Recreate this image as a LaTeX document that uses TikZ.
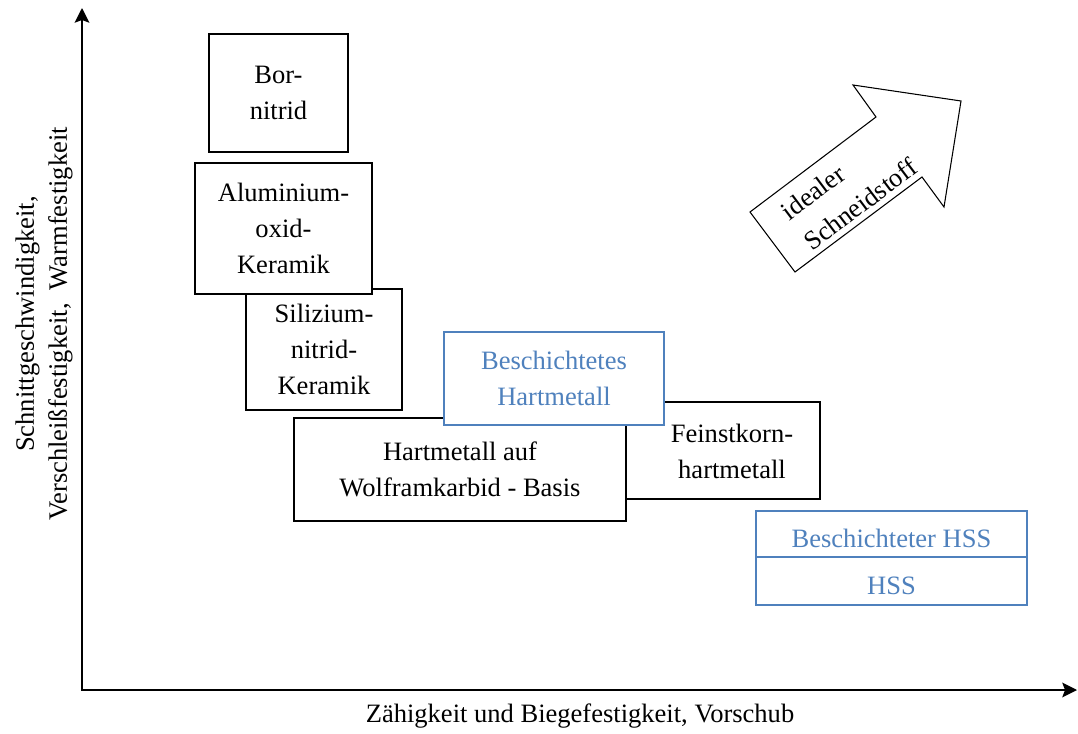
\documentclass[tikz,border=0pt]{standalone}
\usepackage{fontspec}
\setmainfont{Liberation Serif}
\usetikzlibrary{arrows.meta}
\definecolor{coatblue}{RGB}{79,129,189}
\begin{document}
\begin{tikzpicture}[x=0.75pt,y=-0.75pt,
  font=\fontsize{19.9pt}{27pt}\selectfont,
  box/.style={draw=black, line width=1.5pt, fill=white, align=center, inner sep=2pt},
  coated/.style={box, draw=coatblue, text=coatblue, line width=1.3pt},
  oneline/.style={text height=20pt, text depth=0pt},
  axisline/.style={line width=1.5pt,
    {Stealth[length=11pt,width=11pt,inset=2pt]}-{Stealth[length=11pt,width=11pt,inset=2pt]}},
  label/.style={inner sep=0pt},
]
\useasboundingbox (0,0) rectangle (1078,734);

% axes
\coordinate (ytip) at (82,8);
\coordinate (origin) at (82,690);
\coordinate (xtip) at (1077,690);
\draw[axisline] (ytip) -- (origin) -- (xtip);

% axis titles
\node[label, anchor=base] (xlab) at (580,722) {Zähigkeit und Biegefestigkeit, Vorschub};
\node[label, rotate=90, align=center, font=\fontsize{19.9pt}{24.75pt}\selectfont] (ylab) at (44,324)
  {Schnittgeschwindigkeit,\\Verschleißfestigkeit,\ \ Warmfestigkeit};

% ceramic and superhard materials
\node[box, minimum width=104.25pt, minimum height=88.5pt] (bn) at (278.5,93) {Bor-\\nitrid};
\node[box, minimum width=117pt, minimum height=90.75pt] (si) at (324,349.5) {Silizium-\\nitrid-\\Keramik};
\node[box, minimum width=132.75pt, minimum height=98.25pt] (al) at (283.5,228.5) {Aluminium-\\oxid-\\Keramik};

% hard metals
\node[box, minimum width=149.25pt, minimum height=72.75pt] (fkbox) at (720,450.5) {};
\node[label, align=center] (fk) at (732,451) {Feinstkorn-\\hartmetall};
\node[box, minimum width=249pt, minimum height=77.25pt] (hm) at (460,469.5) {Hartmetall auf\\Wolframkarbid - Basis};
\node[coated, minimum width=165pt, minimum height=69.75pt] (bhm) at (554,378.5) {Beschichtetes\\Hartmetall};

% high speed steels
\node[coated, oneline, minimum width=203.25pt, minimum height=34.5pt] (bhss) at (891.5,534) {Beschichteter HSS};
\node[coated, oneline, minimum width=203.25pt, minimum height=36pt] (hss) at (891.5,581) {HSS};

% block arrow towards the ideal cutting material
\draw[line width=0.8pt, fill=white, line join=miter]
  (750,212) -- (876,117) -- (853,85) -- (961,101) -- (944,207) -- (922,177) -- (795,272) -- cycle;
\node[label, rotate=37, align=left, font=\fontsize{19.9pt}{28.5pt}\selectfont] (ideal) at (849,189)
  {idealer\\Schneidstoff};
\end{tikzpicture}
\end{document}
